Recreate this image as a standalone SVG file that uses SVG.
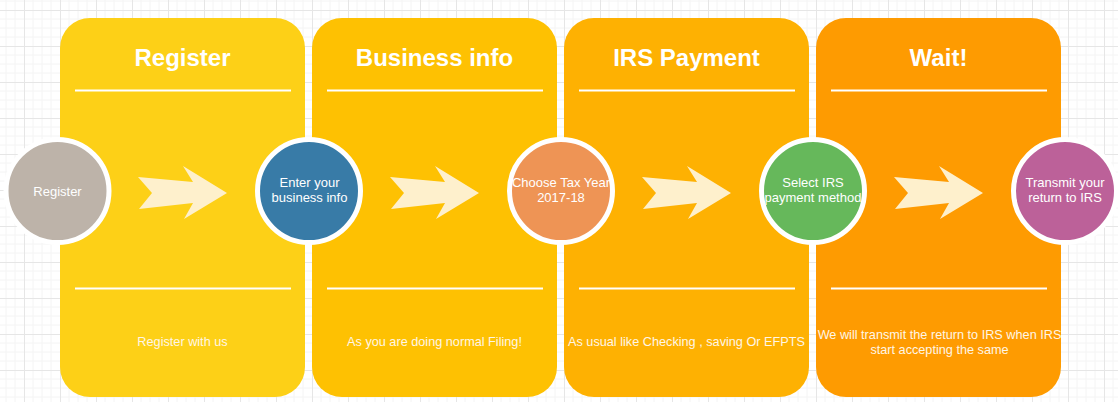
<svg xmlns="http://www.w3.org/2000/svg" width="1118" height="414" viewBox="0 0 1118 414">
  <defs>
    <pattern id="grid" patternUnits="userSpaceOnUse" x="24" y="10" width="36" height="36">
      <path d="M9 0V36M18 0V36M27 0V36M0 9H36M0 18H36M0 27H36" stroke="#f4f4f4" stroke-width="1" fill="none"/>
      <path d="M0.5 0V36M0 0.5H36" stroke="#e6e6e6" stroke-width="1" fill="none"/>
    </pattern>
    <polygon id="arrow" points="138,177 152,193 139,209 193,203 184,219 227,193 183,166 193,182"/>
  </defs>
  <style>
    .title { font-family: "Liberation Sans", Arial, sans-serif; font-size: 24px; font-weight: bold; fill: #ffffff; text-anchor: middle; }
    .desc { font-family: "Liberation Sans", Arial, sans-serif; font-size: 12.7px; fill: #fff6e6; text-anchor: middle; }
    .ctext { font-family: "Liberation Sans", Arial, sans-serif; font-size: 13px; fill: #ffffff; text-anchor: middle; }
    .sep { stroke: #ffffff; stroke-width: 2; }
    .ring { stroke: #ffffff; stroke-width: 5; }
    .arrow { fill: #fef0cc; }
  </style>
  <rect width="1118" height="414" fill="#ffffff"/>
  <rect width="1118" height="402" fill="url(#grid)"/>

  <g id="panel-register">
    <rect x="60" y="18" width="245" height="379" rx="30" fill="#fdd017"/>
    <text class="title" x="182.5" y="66">Register</text>
    <line class="sep" x1="75" y1="90.5" x2="291" y2="90.5"/>
    <line class="sep" x1="75" y1="288.5" x2="291" y2="288.5"/>
    <text class="desc" x="182.5" y="346">Register with us</text>
  </g>
  <g id="panel-business">
    <rect x="312" y="18" width="245" height="379" rx="30" fill="#fec102"/>
    <text class="title" x="434.5" y="66">Business info</text>
    <line class="sep" x1="327" y1="90.5" x2="543" y2="90.5"/>
    <line class="sep" x1="327" y1="288.5" x2="543" y2="288.5"/>
    <text class="desc" x="434.5" y="346">As you are doing normal Filing!</text>
  </g>
  <g id="panel-irs">
    <rect x="564" y="18" width="245" height="379" rx="30" fill="#feb102"/>
    <text class="title" x="686.5" y="66">IRS Payment</text>
    <line class="sep" x1="579" y1="90.5" x2="795" y2="90.5"/>
    <line class="sep" x1="579" y1="288.5" x2="795" y2="288.5"/>
    <text class="desc" x="686.5" y="346">As usual like Checking , saving Or EFPTS</text>
  </g>
  <g id="panel-wait">
    <rect x="816" y="18" width="245" height="379" rx="30" fill="#fe9b01"/>
    <text class="title" x="938.5" y="66">Wait!</text>
    <line class="sep" x1="831" y1="90.5" x2="1047" y2="90.5"/>
    <line class="sep" x1="831" y1="288.5" x2="1047" y2="288.5"/>
    <text class="desc" x="939.5" y="338.5">We will transmit the return to IRS when IRS</text>
    <text class="desc" x="939.5" y="353.5">start accepting the same</text>
  </g>

  <g id="connectors">
    <use href="#arrow" class="arrow"/>
    <use href="#arrow" class="arrow" x="252"/>
    <use href="#arrow" class="arrow" x="504"/>
    <use href="#arrow" class="arrow" x="756"/>
  </g>

  <g id="step-register">
    <circle class="ring" cx="57.5" cy="191" r="51.5" fill="#bdb3a9"/>
    <text class="ctext" x="57.5" y="195.5">Register</text>
  </g>
  <g id="step-business">
    <circle class="ring" cx="309" cy="191" r="51.5" fill="#387ba7"/>
    <text class="ctext" x="309.5" y="187.3">Enter your</text>
    <text class="ctext" x="309.5" y="202.3">business info</text>
  </g>
  <g id="step-taxyear">
    <circle class="ring" cx="561" cy="191" r="51.5" fill="#ee9455"/>
    <text class="ctext" x="561" y="187.3">Choose Tax Year</text>
    <text class="ctext" x="561" y="202.3">2017-18</text>
  </g>
  <g id="step-payment">
    <circle class="ring" cx="813" cy="191" r="51.5" fill="#66b85b"/>
    <text class="ctext" x="813" y="187.3">Select IRS</text>
    <text class="ctext" x="813" y="202.3">payment method</text>
  </g>
  <g id="step-transmit">
    <circle class="ring" cx="1065" cy="191" r="51.5" fill="#bc6199"/>
    <text class="ctext" x="1065" y="187.3">Transmit your</text>
    <text class="ctext" x="1065" y="202.3">return to IRS</text>
  </g>
</svg>
